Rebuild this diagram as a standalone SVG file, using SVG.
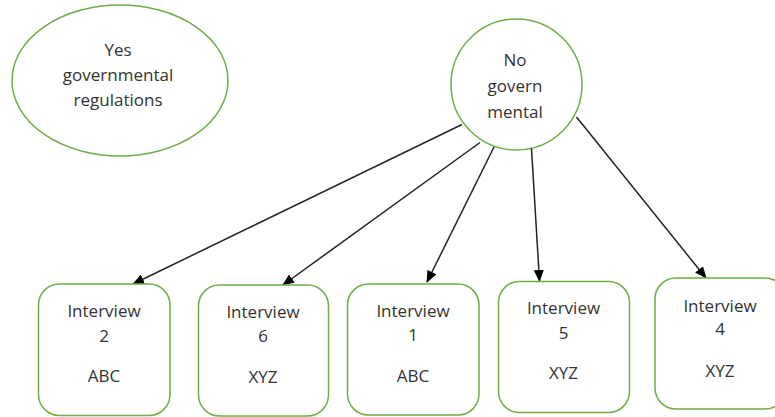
<svg xmlns="http://www.w3.org/2000/svg" width="775" height="417" viewBox="0 0 775 417">
<defs>
<style>
.node{fill:#fff;stroke:#70AD47;stroke-width:1.5}
.t{font-family:"Open Sans","Liberation Sans",sans-serif;font-size:17px;fill:#333;text-anchor:middle}
.c{stroke:#222;stroke-width:1.5;fill:none;marker-end:url(#ah)}
</style>
<marker id="ah" viewBox="0 0 12 10" refX="11" refY="5" markerWidth="12" markerHeight="10" markerUnits="userSpaceOnUse" orient="auto">
<path d="M0,0 L12,5 L0,10 Z" fill="#000"/>
</marker>
</defs>
<rect width="775" height="417" fill="#fff"/>
<g id="yes">
<ellipse class="node" cx="120" cy="80.5" rx="108" ry="75.5"/>
<text class="t" x="118" y="56">Yes</text>
<text class="t" x="118" y="81">governmental</text>
<text class="t" x="118" y="106">regulations</text>
</g>
<g id="no">
<circle class="node" cx="516.5" cy="84.5" r="65.5"/>
<text class="t" x="515" y="66">No</text>
<text class="t" x="515" y="92">govern</text>
<text class="t" x="515" y="118">mental</text>
</g>
<g id="connectors">
<line class="c" x1="462" y1="124.5" x2="133" y2="284"/>
<line class="c" x1="480" y1="142.5" x2="283" y2="285"/>
<line class="c" x1="494" y1="147" x2="427" y2="282"/>
<line class="c" x1="531.5" y1="148.5" x2="539.5" y2="281"/>
<line class="c" x1="576.5" y1="117" x2="706" y2="278"/>
</g>
<g id="i2">
<rect class="node" x="38.5" y="284" width="131.5" height="131.5" rx="21"/>
<text class="t" x="104" y="317">Interview</text>
<text class="t" x="104" y="342">2</text>
<text class="t" x="104" y="382">ABC</text>
</g>
<g id="i6">
<rect class="node" x="198.5" y="285" width="130" height="131" rx="21"/>
<text class="t" x="263" y="318">Interview</text>
<text class="t" x="263" y="342">6</text>
<text class="t" x="263" y="383">XYZ</text>
</g>
<g id="i1">
<rect class="node" x="347.5" y="284" width="131.5" height="131" rx="21"/>
<text class="t" x="413" y="317">Interview</text>
<text class="t" x="413" y="341">1</text>
<text class="t" x="413" y="382">ABC</text>
</g>
<g id="i5">
<rect class="node" x="498.5" y="281.5" width="131" height="131" rx="21"/>
<text class="t" x="563.5" y="314">Interview</text>
<text class="t" x="563.5" y="339">5</text>
<text class="t" x="563.5" y="379">XYZ</text>
</g>
<g id="i4">
<rect class="node" x="655" y="278" width="131" height="131" rx="21"/>
<text class="t" x="720" y="312">Interview</text>
<text class="t" x="720" y="335">4</text>
<text class="t" x="720" y="377">XYZ</text>
</g>
</svg>
